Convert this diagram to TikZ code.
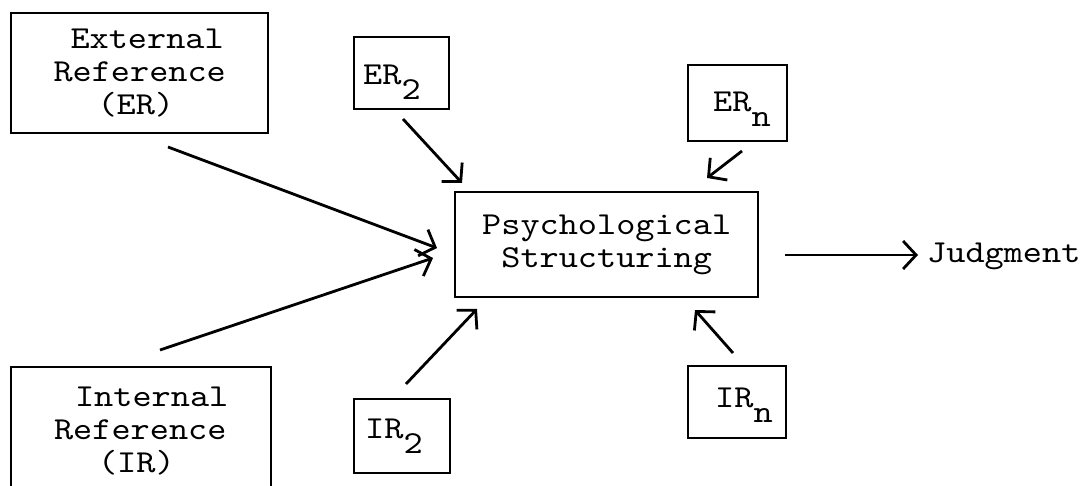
\documentclass[tikz,border=0pt]{standalone}
\usepackage{fontspec}
\setmonofont[FakeStretch=1.14]{lmmono10-regular.otf}
\usetikzlibrary{arrows.meta}
\begin{document}
\begin{tikzpicture}[x=1pt,y=-1pt,
  tw/.style={font=\ttfamily\fontsize{32}{33}\selectfont},
  box/.style={draw, line width=2.4pt, inner sep=0pt, anchor=north west, tw},
  lbl/.style={tw, inner sep=0pt, anchor=base west},
  arr/.style={line width=2.8pt, -{Straight Barb[length=13pt,width=28pt,line width=2.8pt]}}]
\useasboundingbox (0,0) rectangle (1089,486);
\clip (0,0) rectangle (1089,486);
% boxes
\node[box, minimum width=257pt, minimum height=120pt, align=left] (er) at (10,12)
  {\hspace*{17pt}External\\Reference\\\hspace*{44pt}(ER)};
\node[box, minimum width=260pt, minimum height=128pt, align=left] (ir) at (10,366)
  {\hspace*{21pt}Internal\\Reference\\\hspace*{44pt}(IR)};
\node[box, minimum width=303pt, minimum height=105pt, align=center] (ps) at (454,191)
  {Psychological\\Structuring};
\node[box, minimum width=95pt, minimum height=72pt] (er2) at (353,36) {};
\node[box, minimum width=99pt, minimum height=76pt] (ern) at (687,64) {};
\node[box, minimum width=96pt, minimum height=74pt] (ir2) at (353,398) {};
\node[box, minimum width=98pt, minimum height=72pt] (irn) at (687,365) {};
% labels
\node[lbl] (er2t) at (363,85) {ER\raisebox{-15pt}{2}};
\node[lbl] (ernt) at (713,112) {ER\raisebox{-15pt}{n}};
\node[lbl] (ir2t) at (365,438) {IR\raisebox{-15pt}{2}};
\node[lbl] (irnt) at (715,407) {IR\raisebox{-15pt}{n}};
\node[lbl] (jud) at (927,262) {Judgment};
% arrow end points
\coordinate (aer1) at (168,147);  \coordinate (aer2) at (437,248);
\coordinate (air1) at (160,350);  \coordinate (air2) at (433,258);
\coordinate (ber1) at (403,119);  \coordinate (ber2) at (462,183);
\coordinate (bern1) at (742,151); \coordinate (bern2) at (707,178);
\coordinate (bir1) at (406,384);  \coordinate (bir2) at (477,309);
\coordinate (birn1) at (733,353); \coordinate (birn2) at (695,310);
\coordinate (js) at (785,255);
% connectors
\draw[arr] (aer1) -- (aer2);
\draw[arr] (air1) -- (air2);
\draw[arr] (ber1) -- (ber2);
\draw[arr] (bern1) -- (bern2);
\draw[arr] (bir1) -- (bir2);
\draw[arr] (birn1) -- (birn2);
\draw[arr, shorten >=9pt] (js) -- (js -| jud.west);
\end{tikzpicture}
\end{document}
